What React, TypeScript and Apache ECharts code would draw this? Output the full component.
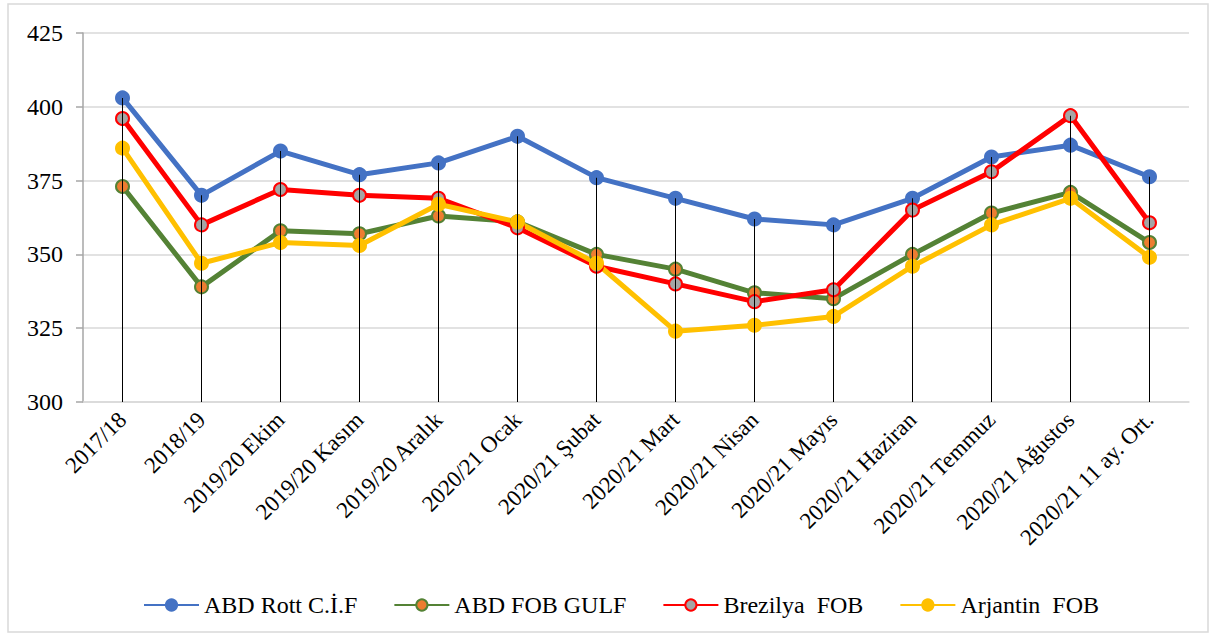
import React, { useEffect, useRef } from "react";
import * as echarts from "echarts";

const categories = [
  "2017/18",
  "2018/19",
  "2019/20 Ekim",
  "2019/20 Kasım",
  "2019/20 Aralık",
  "2020/21 Ocak",
  "2020/21 Şubat",
  "2020/21 Mart",
  "2020/21 Nisan",
  "2020/21 Mayıs",
  "2020/21 Haziran",
  "2020/21 Temmuz",
  "2020/21 Ağustos",
  "2020/21 11 ay. Ort.",
];

const abdRott = [403, 370, 385, 377, 381, 390, 376, 369, 362, 360, 369, 383, 387, 376.3];
const abdGulf = [373, 339, 358, 357, 363, 361, 350, 345, 337, 335, 350, 364, 371, 354];
const brezilya = [396, 360, 372, 370, 369, 359, 346, 340, 334, 338, 365, 378, 397, 360.7];
const arjantin = [386, 347, 354, 353, 367, 361, 347, 324, 326, 329, 346, 360, 369, 349];

const yTicks = { min: 300, max: 425, interval: 25 };

const seriesNames = ["ABD Rott C.İ.F", "ABD FOB GULF", "Brezilya  FOB", "Arjantin  FOB"];

const FONT = "'Times New Roman', 'Liberation Serif', serif";

export default function App() {
  const ref = useRef<HTMLDivElement>(null);

  useEffect(() => {
    if (!ref.current) return;
    const chart = echarts.init(ref.current, null, { renderer: "svg" });

    const dropTop = categories.map((_, i) =>
      Math.max(abdRott[i], abdGulf[i], brezilya[i], arjantin[i])
    );

    const lineSeries = (
      name: string,
      data: number[],
      lineColor: string,
      fill: string,
      border: string
    ) => ({
      name,
      type: "line",
      data,
      symbol: "circle",
      symbolSize: 13,
      lineStyle: { color: lineColor, width: 5 },
      itemStyle: { color: fill, borderColor: border, borderWidth: 2 },
      z: 3,
    });

    chart.setOption({
      animation: false,
      backgroundColor: "#ffffff",
      textStyle: { fontFamily: FONT },
      graphic: [
        {
          type: "rect",
          shape: { x: 8, y: 4, width: 1200, height: 628 },
          style: { fill: "none", stroke: "#d9d9d9", lineWidth: 1.5 },
          silent: true,
          z: -10,
        },
      ],
      grid: { left: 83, right: 26, top: 33, bottom: 235, containLabel: false },
      legend: {
        data: seriesNames,
        bottom: 15,
        left: 138,
        itemWidth: 55,
        itemHeight: 14,
        itemGap: 36,
        textStyle: { fontFamily: FONT, fontSize: 24, color: "#000" },
      },
      xAxis: {
        type: "category",
        data: categories,
        boundaryGap: true,
        axisLine: { show: true, lineStyle: { color: "#d9d9d9", width: 1.5 } },
        axisTick: { show: false },
        axisLabel: {
          rotate: 45,
          interval: 0,
          margin: 14,
          fontFamily: FONT,
          fontSize: 23,
          color: "#000",
        },
        splitLine: { show: false },
      },
      yAxis: {
        type: "value",
        min: yTicks.min,
        max: yTicks.max,
        interval: yTicks.interval,
        axisLine: { show: true, lineStyle: { color: "#a6a6a6", width: 1.5 } },
        axisTick: { show: true, length: 7, lineStyle: { color: "#a6a6a6", width: 1.5 } },
        axisLabel: { margin: 20, fontFamily: FONT, fontSize: 24, color: "#000" },
        splitLine: { show: true, lineStyle: { color: "#d9d9d9", width: 1.5 } },
      },
      series: [
        lineSeries(seriesNames[0], abdRott, "#4472C4", "#4472C4", "#4472C4"),
        lineSeries(seriesNames[1], abdGulf, "#548235", "#ED7D31", "#548235"),
        lineSeries(seriesNames[2], brezilya, "#FF0000", "#A5A5A5", "#FF0000"),
        lineSeries(seriesNames[3], arjantin, "#FFC000", "#FFC000", "#FFC000"),
        {
          name: "drop",
          type: "bar",
          data: dropTop,
          barWidth: 1,
          itemStyle: { color: "#000000" },
          silent: true,
          z: 5,
        },
      ],
    });

    return () => chart.dispose();
  }, []);

  return (
    <div
      ref={ref}
      style={{ position: "fixed", left: 0, top: 0, width: 1215, height: 637 }}
    />
  );
}
